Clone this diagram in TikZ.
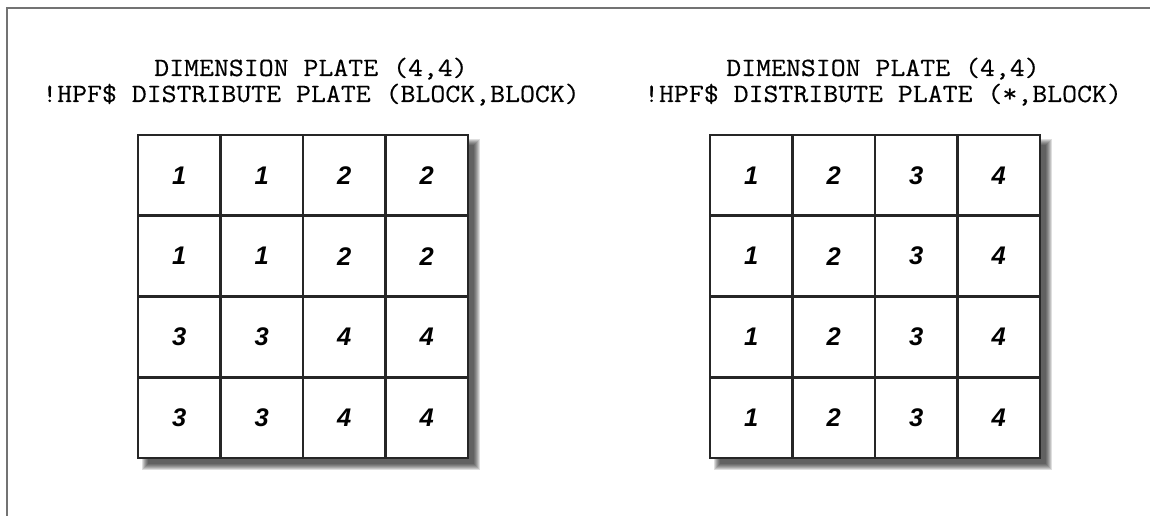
\documentclass[tikz,border=0pt]{standalone}
\usepackage{fontspec}
\setmainfont{Liberation Sans}
\setmonofont{Latin Modern Mono}[FakeStretch=1.1,FakeBold=0.4]
\usetikzlibrary{calc}

\begin{document}
\begin{tikzpicture}[
  x=0.02cm, y=0.02cm,
  every node/.style={inner sep=0pt},
  frame/.style={draw=black!55, line width=1.2pt},
  heading/.style={font=\ttfamily\fontsize{15}{16}\selectfont, anchor=base},
  cell/.style={rectangle, draw=black!85, line width=1.6pt, fill=white, minimum width=1.65cm, minimum height=1.615cm, font=\bfseries\itshape\fontsize{14.5}{16}\selectfont},
  shade/.style={fill=black, opacity=0.13}
]
\useasboundingbox (0,0) rectangle (1150,516);
% Page frame
\draw[frame] (7,0) -- (7,508) -- (1150,508);
% Headings
\node[heading] (lhead1) at (311,440) {DIMENSION PLATE (4,4)};
\node[heading] (lhead2) at (311,414) {!HPF\$ DISTRIBUTE PLATE (BLOCK,BLOCK)};
\node[heading] (rhead1) at (883,440) {DIMENSION PLATE (4,4)};
\node[heading] (rhead2) at (883,414) {!HPF\$ DISTRIBUTE PLATE (*,BLOCK)};
% Drop shadows
\foreach \gx in {138,710}
  \foreach \s in {0,...,6}
    \fill[shade] (\gx+4+\s,46+\s) rectangle (\gx+342-\s,377-\s);
% Left grid: (BLOCK,BLOCK), right grid: (*,BLOCK)
\foreach \r in {0,...,3}
  \foreach \c in {0,...,3} {
    \pgfmathtruncatemacro\lv{2*int(\r/2)+int(\c/2)+1}
    \pgfmathtruncatemacro\rv{\c+1}
    \node[cell] (L-\r-\c) at ({179.25+82.5*\c},{340.625-80.75*\r}) {\lv};
    \node[cell] (R-\r-\c) at ({751.25+82.5*\c},{340.625-80.75*\r}) {\rv};
  }
\end{tikzpicture}
\end{document}
